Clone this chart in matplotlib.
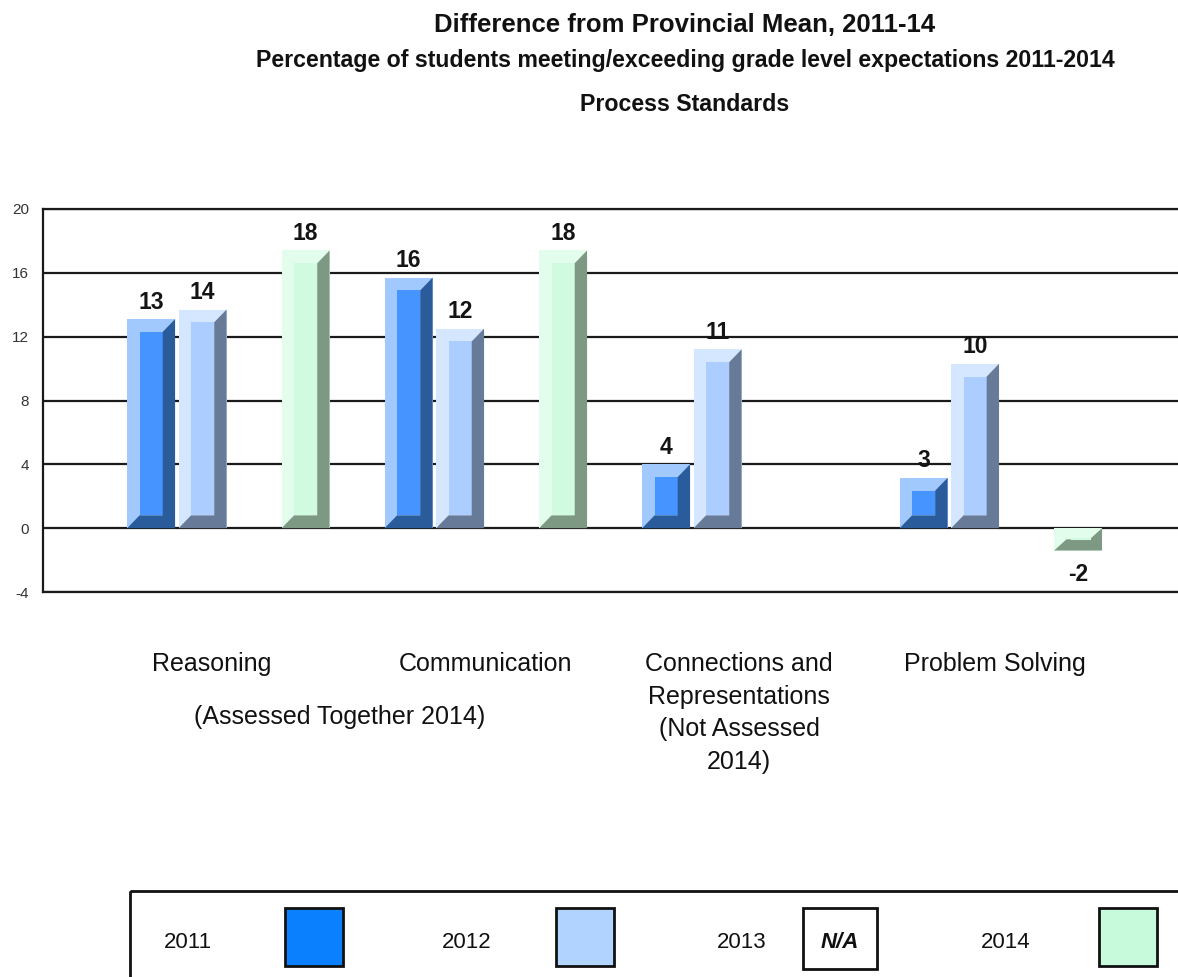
import matplotlib
matplotlib.use("Agg")
import matplotlib.pyplot as plt
from matplotlib import font_manager
from matplotlib.patches import Polygon, Rectangle

plt.rcParams['font.family'] = ['Liberation Sans', 'DejaVu Sans']
plt.rcParams['axes.unicode_minus'] = False

categories = ["Reasoning", "Communication",
              "Connections and\nRepresentations\n(Not Assessed\n2014)",
              "Problem Solving"]
years = ["2011", "2012", "2013", "2014"]

# bar heights as drawn, and the numbers printed on them
heights_2011 = [13.1, 15.7, 4.0, 3.15]
heights_2012 = [13.7, 12.5, 11.2, 10.3]
heights_2014 = [17.4, 17.4, None, -1.4]
labels_2011 = [13, 16, 4, 3]
labels_2012 = [14, 12, 11, 10]
labels_2014 = [18, 18, None, -2]

yticks = [-4, 0, 4, 8, 12, 16, 20]

# (light face, back face, dark face, legend swatch)
colors = {
    "2011": ("#a2c9fd", "#4594ff", "#2a5b9b", "#0a80ff"),
    "2012": ("#d5e6ff", "#abcdff", "#677a97", "#b0d4ff"),
    "2014": ("#e3fded", "#d0fbe1", "#7d9984", "#c6fadb"),
}

series = [
    (0, heights_2011, labels_2011, colors["2011"]),
    (1, heights_2012, labels_2012, colors["2012"]),
    (3, heights_2014, labels_2014, colors["2014"]),
]

# narrow bold face for the value labels if it is there
try:
    font_manager.findfont("Liberation Sans Narrow", fallback_to_default=False)
    num_font, num_size = ["Liberation Sans Narrow", "Liberation Sans"], 19
except Exception:
    num_font, num_size = ["Liberation Sans", "DejaVu Sans"], 16.5

W, H = 1178, 977
fig = plt.figure(figsize=(W / 100, H / 100), dpi=100)
ax = fig.add_axes([43 / W, 1 - 592 / H, 1135 / W, 383 / H])

ax.set_xlim(-2.1, 19.94)
ax.set_ylim(-4, 20)
ax.set_yticks(yticks)
ax.set_xticks([])
ax.yaxis.grid(True, color="#1a1a1a", lw=1.6)
ax.set_axisbelow(True)
ax.spines["right"].set_visible(False)
for side in ["left", "top", "bottom"]:
    ax.spines[side].set_color("#1a1a1a")
    ax.spines[side].set_linewidth(1.6)
ax.tick_params(axis="y", length=0, pad=10, labelsize=11, labelcolor="#333333")

half = 0.465   # half bar width (slots)
dx = 0.24      # bevel depth in x
dy = 0.8       # bevel depth in y


def bar3d(x, v, cols):
    light, main, dark = cols[0], cols[1], cols[2]
    L, R = x - half, x + half
    top, bot = max(v, 0), min(v, 0)
    ax.add_patch(Rectangle((L, bot), R - L, top - bot, fc=light, ec="none", zorder=3))
    lo, hi = bot + dy, top - dy
    if lo > hi:
        lo = hi = (top + bot) / 2
    ax.add_patch(Rectangle((L + dx, lo), R - L - 2 * dx, hi - lo, fc=main, ec="none", zorder=3))
    ax.add_patch(Polygon([(R, top), (R, bot), (L, bot), (L + dx, lo),
                          (R - dx, lo), (R - dx, hi)], closed=True,
                         fc=dark, ec="none", zorder=4))
    if lo == hi:
        ax.plot([L + dx + 0.1, R - dx], [lo, lo], color=main, lw=1.5, zorder=5)


for slot, hs, labs, cols in series:
    for g, (h, lab) in enumerate(zip(hs, labs)):
        if h is None:
            continue
        x = g * 5 + slot
        bar3d(x, h, cols)
        off = 7.5 if h >= 0 else -22
        ax.annotate(str(lab), (x, h), xytext=(0, off), textcoords="offset points",
                    ha="center", va="baseline", fontsize=num_size, fontweight="bold",
                    family=num_font, color="#141414", zorder=6)

# overlay in pixel coordinates for titles, category captions and legend
ov = fig.add_axes([0, 0, 1, 1])
ov.set_xlim(0, W)
ov.set_ylim(H, 0)
ov.axis("off")
ov.patch.set_visible(False)

cx = 685
ov.text(cx, 32, "Difference from Provincial Mean, 2011-14", ha="center", va="baseline",
        fontsize=18.5, fontweight="bold", color="#111111")
ov.text(cx, 67, "Percentage of students meeting/exceeding grade level expectations 2011-2014",
        ha="center", va="baseline", fontsize=16.7, fontweight="bold", color="#111111")
ov.text(cx, 111, "Process Standards", ha="center", va="baseline",
        fontsize=16.7, fontweight="bold", color="#111111")

cat_x = [212, 486, 739, 995]
for xx, name in zip(cat_x, categories):
    ov.text(xx, 652, name, ha="center", va="top", fontsize=18,
            linespacing=1.45, color="#111111")
ov.text(340, 724, "(Assessed Together 2014)", ha="center", va="baseline",
        fontsize=18, color="#111111")

# legend box
ov.add_patch(Rectangle((130, 891), W, 200, fc="none", ec="#111111", lw=2, clip_on=False))
leg_text_x = [164, 442, 717, 981]
leg_box_x = [285, 556, 803, 1099]
leg_box_w = [58, 58, 74, 58]
swatch = [colors["2011"][3], colors["2012"][3], None, colors["2014"][3]]
for tx, bx, bw, yr, sw in zip(leg_text_x, leg_box_x, leg_box_w, years, swatch):
    ov.text(tx, 948, yr, ha="left", va="baseline", fontsize=16, color="#111111")
    ov.add_patch(Rectangle((bx, 908), bw, 58 if sw else 61, fc=sw if sw else "white",
                           ec="#111111", lw=2))
    if sw is None:
        ov.text(bx + bw / 2, 948, "N/A", ha="center", va="baseline", fontsize=16,
                fontweight="bold", fontstyle="italic", color="#111111")

fig.savefig("out.png", dpi=100)
